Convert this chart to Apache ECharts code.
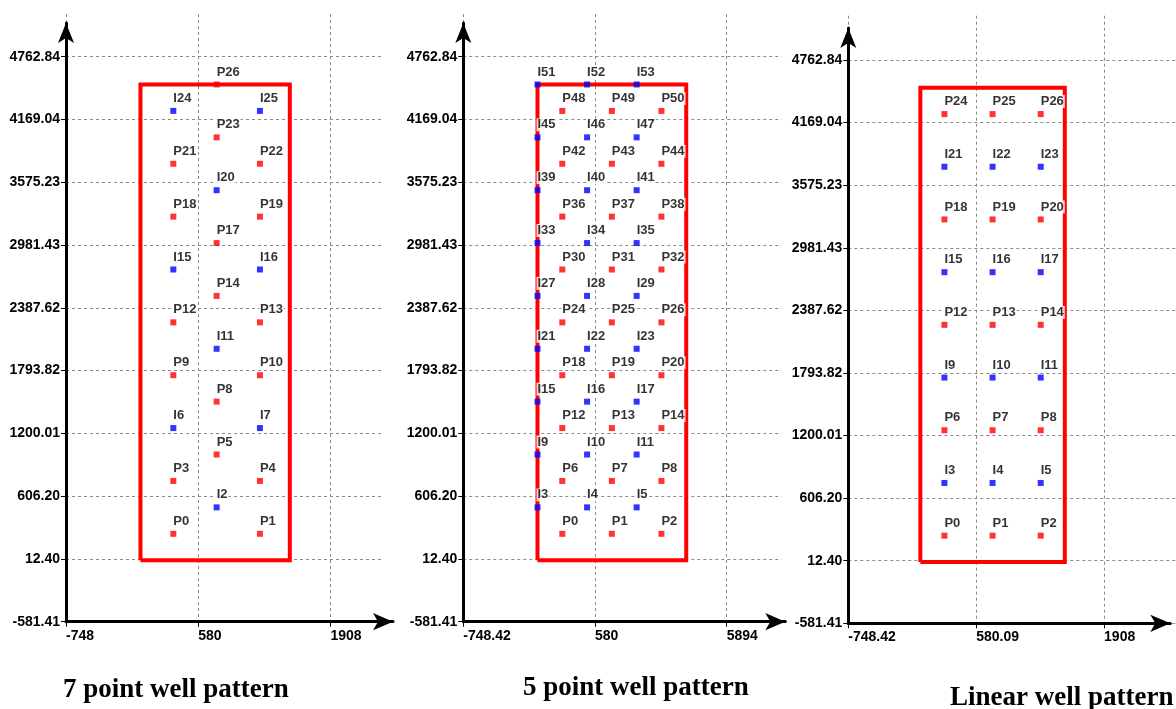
<!DOCTYPE html>
<html>
<head>
<meta charset="utf-8">
<script src="https://cdn.jsdelivr.net/npm/echarts@6/dist/echarts.min.js"></script>
<style>
html,body{margin:0;padding:0;background:#fff;}
#c{width:1176px;height:709px;}
</style>
</head>
<body>
<div id="c"></div>
<script>
// ---------- tick values / labels ----------
const yTicks = [-581.41, 12.40, 606.20, 1200.01, 1793.82, 2387.62, 2981.43, 3575.23, 4169.04, 4762.84];
const xTicks7 = [-748, 580, 1908];
const xLabels7 = ['-748', '580', '1908'];
const xTicks5 = [-748.42, 580, 1908];
const xLabels5 = ['-748.42', '580', '5894'];
const xTicksL = [-748.42, 580.09, 1908];
const xLabelsL = ['-748.42', '580.09', '1908'];

// ---------- reservoir boundary (same for all three patterns) ----------
const boundary = [[0, 0], [1500, 0], [1500, 4500], [0, 4500], [0, 0]];

// ---------- 7 point well pattern ----------
const producers7 = [
  ['P0', 330, 250], ['P1', 1200, 250],
  ['P3', 330, 750], ['P4', 1200, 750],
  ['P5', 765, 1000],
  ['P8', 765, 1500],
  ['P9', 330, 1750], ['P10', 1200, 1750],
  ['P12', 330, 2250], ['P13', 1200, 2250],
  ['P14', 765, 2500],
  ['P17', 765, 3000],
  ['P18', 330, 3250], ['P19', 1200, 3250],
  ['P21', 330, 3750], ['P22', 1200, 3750],
  ['P23', 765, 4000],
  ['P26', 765, 4500]
];
const injectors7 = [
  ['I2', 765, 500],
  ['I6', 330, 1250], ['I7', 1200, 1250],
  ['I11', 765, 2000],
  ['I15', 330, 2750], ['I16', 1200, 2750],
  ['I20', 765, 3500],
  ['I24', 330, 4250], ['I25', 1200, 4250]
];

// ---------- 5 point well pattern ----------
const producers5 = [
  ['P0', 250, 250], ['P1', 750, 250], ['P2', 1250, 250],
  ['P6', 250, 750], ['P7', 750, 750], ['P8', 1250, 750],
  ['P12', 250, 1250], ['P13', 750, 1250], ['P14', 1250, 1250],
  ['P18', 250, 1750], ['P19', 750, 1750], ['P20', 1250, 1750],
  ['P24', 250, 2250], ['P25', 750, 2250], ['P26', 1250, 2250],
  ['P30', 250, 2750], ['P31', 750, 2750], ['P32', 1250, 2750],
  ['P36', 250, 3250], ['P37', 750, 3250], ['P38', 1250, 3250],
  ['P42', 250, 3750], ['P43', 750, 3750], ['P44', 1250, 3750],
  ['P48', 250, 4250], ['P49', 750, 4250], ['P50', 1250, 4250]
];
const injectors5 = [
  ['I3', 0, 500], ['I4', 500, 500], ['I5', 1000, 500],
  ['I9', 0, 1000], ['I10', 500, 1000], ['I11', 1000, 1000],
  ['I15', 0, 1500], ['I16', 500, 1500], ['I17', 1000, 1500],
  ['I21', 0, 2000], ['I22', 500, 2000], ['I23', 1000, 2000],
  ['I27', 0, 2500], ['I28', 500, 2500], ['I29', 1000, 2500],
  ['I33', 0, 3000], ['I34', 500, 3000], ['I35', 1000, 3000],
  ['I39', 0, 3500], ['I40', 500, 3500], ['I41', 1000, 3500],
  ['I45', 0, 4000], ['I46', 500, 4000], ['I47', 1000, 4000],
  ['I51', 0, 4500], ['I52', 500, 4500], ['I53', 1000, 4500]
];

// ---------- Linear well pattern ----------
const producersL = [
  ['P0', 250, 250], ['P1', 750, 250], ['P2', 1250, 250],
  ['P6', 250, 1250], ['P7', 750, 1250], ['P8', 1250, 1250],
  ['P12', 250, 2250], ['P13', 750, 2250], ['P14', 1250, 2250],
  ['P18', 250, 3250], ['P19', 750, 3250], ['P20', 1250, 3250],
  ['P24', 250, 4250], ['P25', 750, 4250], ['P26', 1250, 4250]
];
const injectorsL = [
  ['I3', 250, 750], ['I4', 750, 750], ['I5', 1250, 750],
  ['I9', 250, 1750], ['I10', 750, 1750], ['I11', 1250, 1750],
  ['I15', 250, 2750], ['I16', 750, 2750], ['I17', 1250, 2750],
  ['I21', 250, 3750], ['I22', 750, 3750], ['I23', 1250, 3750]
];

const titles = ['7 point well pattern', '5 point well pattern', 'Linear well pattern'];

// ---------- layout (pixels / axis extents) ----------
const panels = [
  { xTicks: xTicks7, xLabels: xLabels7, prod: producers7, inj: injectors7,
    left: 66, top: 14, width: 315.7, height: 607.7, xMin: -748, xMax: 2423, yMax: 5166.7,
    fTop: 23, fWidth: 327, titleLeft: 63, titleTop: 677 },
  { xTicks: xTicks5, xLabels: xLabels5, prod: producers5, inj: injectors5,
    left: 463.3, top: 14, width: 318.4, height: 607.7, xMin: -748.42, xMax: 2463, yMax: 5166.7,
    fTop: 23, fWidth: 322, titleLeft: 523, titleTop: 675 },
  { xTicks: xTicksL, xLabels: xLabelsL, prod: producersL, inj: injectorsL,
    left: 848.3, top: 15.7, width: 340, height: 607.6, xMin: -748.42, xMax: 2655, yMax: 5183.1,
    fTop: 28, fWidth: 322, titleLeft: 950, titleTop: 685 }
];

const tickFont = { fontFamily: 'Liberation Sans', fontWeight: 'bold', fontSize: 14, color: '#000' };
const gridLine = { show: true, lineStyle: { color: '#8a8a8a', width: 1, type: [3, 3] } };

const grid = [], xAxis = [], yAxis = [], series = [], title = [];

panels.forEach((p, i) => {
  const bottom = p.top + p.height;
  // data grid
  grid.push({ left: p.left, top: p.top, width: p.width, height: p.height, containLabel: false });
  // frame grid (axis lines with arrows)
  grid.push({ left: p.left, top: p.fTop, width: p.fWidth, height: bottom - p.fTop, containLabel: false });
  const gData = i * 2, gFrame = i * 2 + 1;

  xAxis.push({
    type: 'value', gridIndex: gData, min: p.xMin, max: p.xMax,
    axisLine: { show: false, onZero: false },
    axisTick: { show: true, customValues: p.xTicks, length: 5, lineStyle: { color: '#000', width: 1 } },
    axisLabel: { show: true, customValues: p.xTicks, margin: 7, align: 'left',
      formatter: v => p.xLabels[p.xTicks.indexOf(v)] ?? '', ...tickFont },
    splitLine: gridLine
  });
  yAxis.push({
    type: 'value', gridIndex: gData, min: -581.41, max: p.yMax,
    axisLine: { show: false, onZero: false },
    axisTick: { show: true, customValues: yTicks, length: 5, lineStyle: { color: '#000', width: 1 } },
    axisLabel: { show: true, customValues: yTicks, margin: 6,
      formatter: v => v.toFixed(2), ...tickFont },
    splitLine: gridLine
  });
  xAxis.push({
    type: 'value', gridIndex: gFrame, min: 0, max: 1, z: 5,
    axisLine: { show: true, onZero: false, symbol: ['none', 'arrow'], symbolSize: [13, 20],
      lineStyle: { color: '#000', width: 3 } },
    axisTick: { show: false }, axisLabel: { show: false }, splitLine: { show: false }
  });
  yAxis.push({
    type: 'value', gridIndex: gFrame, min: 0, max: 1, z: 5,
    axisLine: { show: true, onZero: false, symbol: ['none', 'arrow'], symbolSize: [12, 20],
      lineStyle: { color: '#000', width: 3 } },
    axisTick: { show: false }, axisLabel: { show: false }, splitLine: { show: false }
  });

  const axIdx = i * 2;
  series.push({
    type: 'line', xAxisIndex: axIdx, yAxisIndex: axIdx, data: boundary,
    symbol: 'none', silent: true, z: 1, animation: false,
    lineStyle: { color: '#ff0000', width: 4, join: 'miter' }
  });
  const lbl = {
    show: true, formatter: '{b}', position: [2, -3], align: 'left', verticalAlign: 'bottom',
    fontFamily: 'Liberation Sans', fontWeight: 'bold', fontSize: 13, color: '#000',
    backgroundColor: '#fff', padding: [0, 1, 0, 1]
  };
  const mk = (arr) => arr.map(d => ({ name: d[0], value: [d[1], d[2]] }));
  series.push({
    type: 'scatter', xAxisIndex: axIdx, yAxisIndex: axIdx, data: mk(p.prod),
    symbol: 'rect', symbolSize: 6, itemStyle: { color: '#ff0000' }, label: lbl,
    z: 3, animation: false, labelLayout: { hideOverlap: false }
  });
  series.push({
    type: 'scatter', xAxisIndex: axIdx, yAxisIndex: axIdx, data: mk(p.inj),
    symbol: 'rect', symbolSize: 6, itemStyle: { color: '#0000ff' }, label: lbl,
    z: 3, animation: false, labelLayout: { hideOverlap: false }
  });

  title.push({
    text: titles[i], left: p.titleLeft, top: p.titleTop, padding: 0,
    textStyle: { fontFamily: 'Liberation Serif', fontWeight: 'bold', fontSize: 27, color: '#000' }
  });
});

const chart = echarts.init(document.getElementById('c'), null, { renderer: 'canvas' });
chart.setOption({ animation: false, backgroundColor: '#fff', title, grid, xAxis, yAxis, series });
</script>
</body>
</html>
